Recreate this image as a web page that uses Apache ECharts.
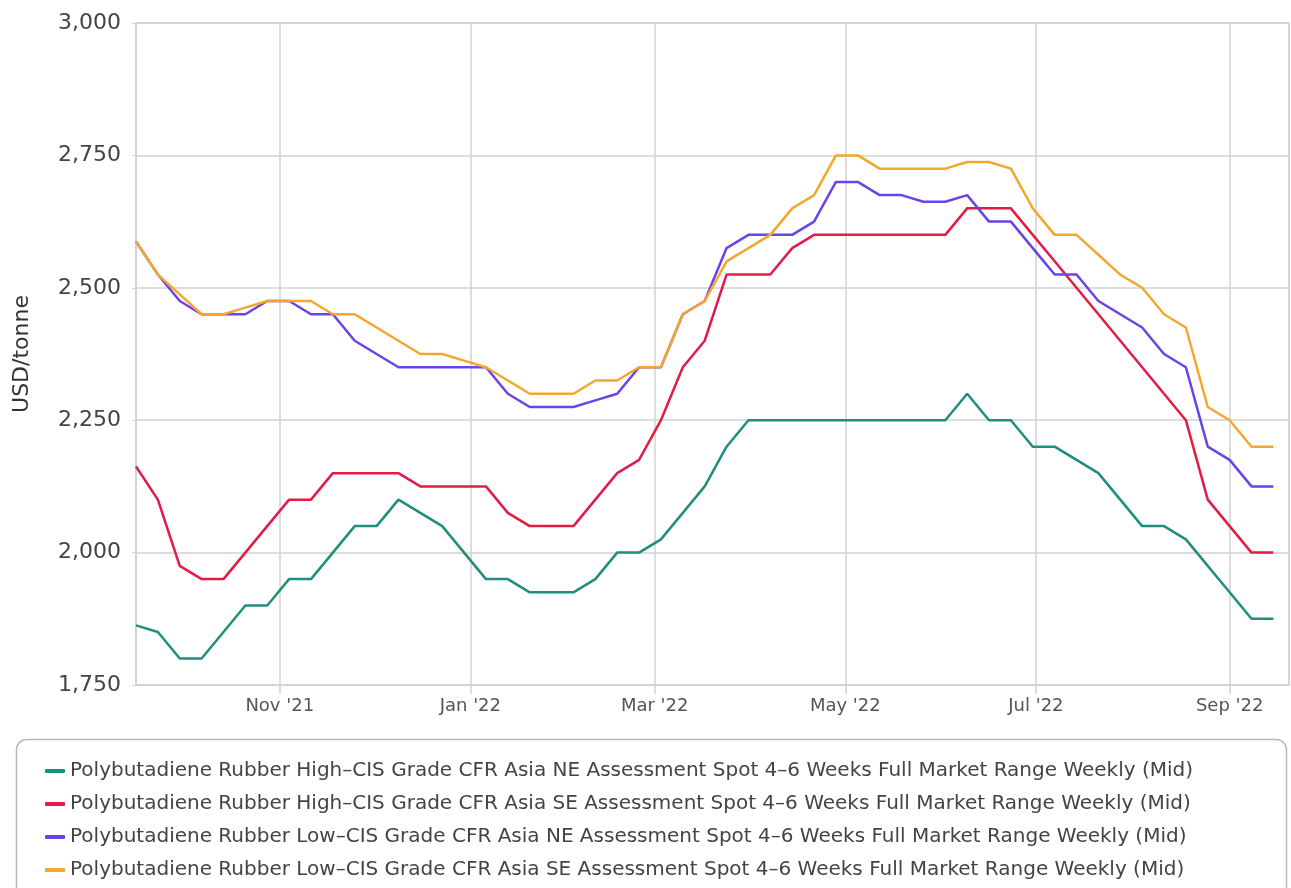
<!DOCTYPE html>
<html>
<head>
<meta charset="utf-8">
<title>Polybutadiene Rubber prices</title>
<script src="https://cdn.jsdelivr.net/npm/echarts@6/dist/echarts.min.js"></script>
<style>
html, body { margin: 0; padding: 0; background: #fff; }
#chart { width: 1291px; height: 888px; }
</style>
</head>
<body>
<div id="chart"></div>
<script>
// weekly assessments, first one 16 Sep 2021
var startDate = new Date(2021, 8, 16);
var weekCount = 53;
var axisMin = new Date(2021, 8, 16);
var axisMax = new Date(2022, 8, 20);
var monthNames = ['Jan', 'Feb', 'Mar', 'Apr', 'May', 'Jun', 'Jul', 'Aug', 'Sep', 'Oct', 'Nov', 'Dec'];

var seriesNames = [
    'Polybutadiene Rubber High–CIS Grade CFR Asia NE Assessment Spot 4–6 Weeks Full Market Range Weekly (Mid)',
    'Polybutadiene Rubber High–CIS Grade CFR Asia SE Assessment Spot 4–6 Weeks Full Market Range Weekly (Mid)',
    'Polybutadiene Rubber Low–CIS Grade CFR Asia NE Assessment Spot 4–6 Weeks Full Market Range Weekly (Mid)',
    'Polybutadiene Rubber Low–CIS Grade CFR Asia SE Assessment Spot 4–6 Weeks Full Market Range Weekly (Mid)'
];
var seriesColors = ['#1f8e7c', '#e21c44', '#6a43ea', '#f3a72f'];

var highCisNE = [1862.5, 1850, 1800, 1800, 1850, 1900, 1900, 1950, 1950, 2000,
    2050, 2050, 2100, 2075, 2050, 2000, 1950, 1950, 1925, 1925,
    1925, 1950, 2000, 2000, 2025, 2075, 2125, 2200, 2250, 2250,
    2250, 2250, 2250, 2250, 2250, 2250, 2250, 2250, 2300, 2250,
    2250, 2200, 2200, 2175, 2150, 2100, 2050, 2050, 2025, 1975,
    1925, 1875, 1875];
var highCisSE = [2162.5, 2100, 1975, 1950, 1950, 2000, 2050, 2100, 2100, 2150,
    2150, 2150, 2150, 2125, 2125, 2125, 2125, 2075, 2050, 2050,
    2050, 2100, 2150, 2175, 2250, 2350, 2400, 2525, 2525, 2525,
    2575, 2600, 2600, 2600, 2600, 2600, 2600, 2600, 2650, 2650,
    2650, 2600, 2550, 2500, 2450, 2400, 2350, 2300, 2250, 2100,
    2050, 2000, 2000];
var lowCisNE = [2587.5, 2525, 2475, 2450, 2450, 2450, 2475, 2475, 2450, 2450,
    2400, 2375, 2350, 2350, 2350, 2350, 2350, 2300, 2275, 2275,
    2275, 2287.5, 2300, 2350, 2350, 2450, 2475, 2575, 2600, 2600,
    2600, 2625, 2700, 2700, 2675, 2675, 2662.5, 2662.5, 2675, 2625,
    2625, 2575, 2525, 2525, 2475, 2450, 2425, 2375, 2350, 2200,
    2175, 2125, 2125];
var lowCisSE = [2587.5, 2525, 2487.5, 2450, 2450, 2462.5, 2475, 2475, 2475, 2450,
    2450, 2425, 2400, 2375, 2375, 2362.5, 2350, 2325, 2300, 2300,
    2300, 2325, 2325, 2350, 2350, 2450, 2475, 2550, 2575, 2600,
    2650, 2675, 2750, 2750, 2725, 2725, 2725, 2725, 2737.5, 2737.5,
    2725, 2650, 2600, 2600, 2562.5, 2525, 2500, 2450, 2425, 2275,
    2250, 2200, 2200];

var weeks = [];
for (var w = 0; w < weekCount; w++) {
    var d = new Date(startDate.getTime());
    d.setDate(d.getDate() + 7 * w);
    weeks.push(d.getTime());
}

function pair(values) {
    return values.map(function (v, i) { return [weeks[i], v]; });
}

function monthLabel(value) {
    var d = new Date(value);
    return monthNames[d.getMonth()] + " '" + String(d.getFullYear()).slice(2);
}

var allValues = [highCisNE, highCisSE, lowCisNE, lowCisSE];
var series = allValues.map(function (vals, k) {
    return {
        name: seriesNames[k],
        type: 'line',
        data: pair(vals),
        symbol: 'none',
        lineStyle: { width: 2.5, color: seriesColors[k] },
        itemStyle: { color: seriesColors[k] }
    };
});

var gridColor = '#d2d2d2';

var chart = echarts.init(document.getElementById('chart'));
chart.setOption({
    animation: false,
    backgroundColor: '#fff',
    textStyle: { fontFamily: 'DejaVu Sans' },
    grid: {
        left: 136, right: 2, top: 23, bottom: 203,
        show: true, borderColor: gridColor, borderWidth: 1.5
    },
    xAxis: {
        type: 'time',
        min: axisMin.getTime(),
        max: axisMax.getTime(),
        minInterval: 75 * 86400000,
        maxInterval: 75 * 86400000,
        axisLine: { lineStyle: { color: gridColor, width: 1.5 } },
        axisTick: { show: true, length: 9, lineStyle: { color: gridColor, width: 1.5 } },
        splitLine: { show: true, lineStyle: { color: gridColor, width: 1.5 } },
        axisLabel: {
            formatter: monthLabel,
            color: '#555', fontSize: 18, margin: 12
        }
    },
    yAxis: {
        type: 'value',
        min: 1750, max: 3000, interval: 250,
        name: 'USD/tonne',
        nameLocation: 'middle',
        nameGap: 103,
        nameTextStyle: { color: '#333', fontSize: 22 },
        axisLine: { show: true, lineStyle: { color: gridColor, width: 1.5 } },
        axisTick: { show: true, length: 4, lineStyle: { color: gridColor } },
        splitLine: { lineStyle: { color: gridColor, width: 1.5 } },
        axisLabel: { color: '#444', fontSize: 22, margin: 15 }
    },
    legend: {
        orient: 'vertical',
        left: 40, top: 756,
        icon: 'roundRect',
        itemWidth: 20, itemHeight: 4,
        itemGap: 13,
        textStyle: { color: '#444', fontSize: 20, lineHeight: 20 },
        data: seriesNames
    },
    graphic: [{
        type: 'rect',
        left: 14, top: 737,
        shape: { width: 1270, height: 200, r: 10 },
        style: { fill: 'none', stroke: '#b8b8b8', lineWidth: 1.5 },
        silent: true
    }],
    series: series
});
</script>
</body>
</html>
